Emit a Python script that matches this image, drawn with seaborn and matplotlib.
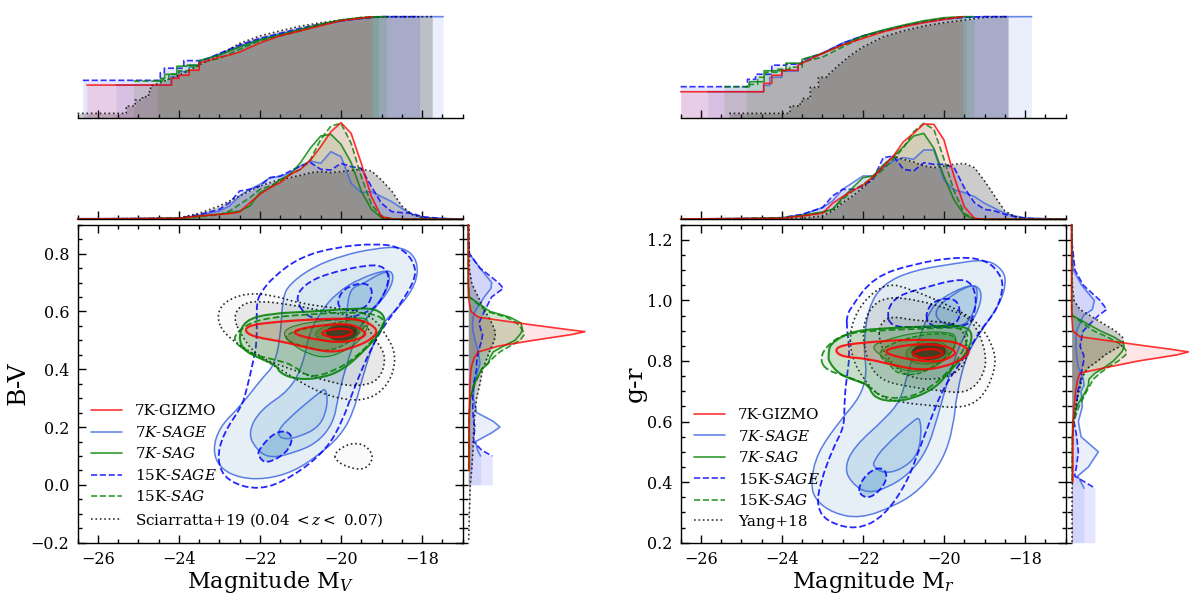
import numpy as np
import matplotlib
matplotlib.use("Agg")
import matplotlib.pyplot as plt
import seaborn as sns
from matplotlib.lines import Line2D
from matplotlib.patches import PathPatch
from matplotlib.path import Path
from matplotlib.ticker import MultipleLocator

# top KDE panels, relative density, all series on one magnitude grid
KDE_MAG = [-26.5, -25, -24, -23.5, -23, -22.75, -22.5, -22.25, -22, -21.75, -21.5, -21.25, -21, -20.75,
           -20.5, -20.25, -20, -19.75, -19.5, -19.25, -19, -18.75, -18.5, -18.25, -18, -17.5, -17]

V_KDE_GIZMO = [1, 2, 3, 10, 15, 17, 22, 50, 75, 95, 110, 135, 150, 178, 218, 263, 290, 258, 168, 68, 8, 1, 0, 0, 0, 0, 0]
V_KDE_SAGE7 = [2, 2, 3, 12, 25, 40, 70, 90, 105, 125, 128, 140, 160, 175, 168, 203, 188, 108, 80, 83, 68, 53, 33, 15, 5, 3, 0]
V_KDE_SAG7 = [1, 2, 3, 10, 15, 20, 25, 40, 80, 95, 120, 135, 170, 215, 250, 255, 225, 170, 85, 30, 5, 1, 0, 0, 0, 0, 0]
V_KDE_SAGE15 = [1, 2, 4, 14, 30, 50, 85, 90, 100, 125, 130, 145, 160, 170, 150, 148, 168, 158, 153, 98, 48, 23, 20, 18, 8, 2, 0]
V_KDE_SAG15 = [1, 1, 2, 8, 14, 25, 45, 65, 90, 100, 115, 135, 150, 180, 240, 280, 288, 228, 128, 45, 8, 2, 0, 0, 0, 0, 0]
V_KDE_OBS = [1, 2, 4, 18, 40, 55, 70, 85, 100, 110, 120, 125, 132, 140, 143, 140, 143, 147, 150, 145, 118, 85, 40, 15, 5, 1, 0]

R_KDE_GIZMO = [1, 2, 3, 10, 18, 48, 68, 86, 103, 128, 158, 190, 233, 258, 286, 285, 238, 128, 38, 3, 0, 0, 0, 0, 0, 0, 0]
R_KDE_SAGE7 = [1, 2, 4, 14, 35, 55, 90, 110, 130, 130, 155, 175, 185, 180, 208, 208, 118, 88, 80, 68, 48, 33, 18, 10, 4, 2, 0]
R_KDE_SAG7 = [1, 2, 4, 12, 22, 30, 65, 95, 125, 130, 163, 188, 218, 250, 258, 213, 128, 58, 13, 1, 0, 0, 0, 0, 0, 0, 0]
R_KDE_SAGE15 = [1, 2, 5, 15, 35, 70, 90, 90, 100, 120, 185, 190, 150, 145, 170, 165, 165, 155, 95, 50, 30, 25, 15, 8, 3, 1, 0]
R_KDE_SAG15 = [1, 2, 3, 10, 20, 30, 60, 85, 105, 125, 150, 180, 215, 263, 288, 270, 180, 85, 18, 2, 0, 0, 0, 0, 0, 0, 0]
R_KDE_OBS = [0, 0, 1, 3, 10, 25, 50, 70, 95, 125, 160, 190, 180, 172, 160, 155, 160, 165, 168, 155, 115, 70, 25, 8, 2, 0, 0]

# cumulative curves: (magnitude, fraction)
V_CDF_GIZMO = [(-26.27, .323), (-24.18, .39), (-24, .42), (-23.75, .47), (-23.5, .54), (-23.25, .57), (-23, .60), (-22.75, .62),
               (-22.5, .65), (-22, .74), (-21.5, .81), (-21, .86), (-20.5, .91), (-20, .96), (-19.5, .985), (-19.23, 1.0)]
V_CDF_SAGE7 = [(-25.55, .323), (-24.2, .406), (-24, .455), (-23.75, .52), (-23.5, .555), (-23, .63), (-22.5, .71), (-22, .775),
               (-21.5, .83), (-21, .875), (-20.5, .917), (-20, .957), (-19.5, .983), (-19, 1.0), (-17.48, 1.0)]
V_CDF_SAG7 = [(-24.53, .363), (-24.45, .39), (-24.35, .43), (-24.05, .51), (-23.8, .52), (-23.5, .565), (-23, .62), (-22.5, .70),
              (-22, .77), (-21.5, .82), (-21, .875), (-20.5, .927), (-20, .967), (-19.5, .99), (-19, 1.0), (-18.88, 1.0)]
V_CDF_SAGE15 = [(-26.37, .37), (-24.46, .445), (-24.36, .49), (-23.88, .565), (-23.5, .56), (-23.25, .59), (-23, .637), (-22.5, .72),
                (-22, .785), (-21.5, .835), (-21, .885), (-20.5, .927), (-20, .96), (-19.5, .983), (-19, 1.0), (-18.06, 1.0)]
V_CDF_SAG15 = [(-25.12, .363), (-24.4, .38), (-24.25, .43), (-24, .465), (-23.75, .505), (-23.5, .54), (-23, .587), (-22.5, .677),
               (-22, .762), (-21.5, .81), (-21, .86), (-20.5, .917), (-20, .967), (-19.5, .993), (-19.08, 1.0)]
V_CDF_OBS = [(-26.5, .043), (-25.3, .115), (-25.08, .175), (-24.9, .208), (-24.75, .257), (-24.7, .313), (-24.5, .34), (-24, .42),
             (-23.5, .52), (-23, .62), (-22.5, .736), (-22, .81), (-21.5, .86), (-21, .907), (-20.5, .94), (-20, .967),
             (-19.5, .99), (-19, .997), (-17.75, 1.0)]

R_CDF_GIZMO = [(-26.5, .257), (-24.45, .34), (-24.25, .42), (-24, .47), (-23.6, .52), (-23.2, .60), (-22.8, .67), (-22.5, .72),
               (-22, .785), (-21.5, .85), (-21, .90), (-20.5, .94), (-20, .973), (-19.54, 1.0)]
R_CDF_SAGE7 = [(-25.83, .257), (-24.45, .32), (-24.3, .40), (-24, .46), (-23.6, .53), (-23.2, .60), (-22.8, .68), (-22.5, .74),
               (-22, .81), (-21.5, .865), (-21, .91), (-20.5, .945), (-20, .975), (-19.5, .995), (-19, 1.0), (-17.84, 1.0)]
R_CDF_SAG7 = [(-24.88, .307), (-24.8, .356), (-24.44, .465), (-24.1, .465), (-23.9, .54), (-23.5, .578), (-23, .637), (-22.5, .72),
              (-22, .81), (-21.5, .868), (-21, .917), (-20.5, .96), (-20, .99), (-19.5, 1.0), (-19.26, 1.0)]
R_CDF_SAGE15 = [(-26.5, .307), (-24.85, .38), (-24.65, .43), (-24.25, .52), (-23.9, .53), (-23.5, .57), (-23, .637), (-22.5, .736),
                (-22, .81), (-21.5, .86), (-21, .907), (-20.5, .95), (-20, .977), (-19.5, .993), (-19, 1.0), (-18.42, 1.0)]
R_CDF_SAG15 = [(-25.43, .307), (-24.85, .33), (-24.6, .40), (-24.4, .45), (-24.1, .48), (-23.8, .50), (-23.5, .55), (-23, .60),
               (-22.5, .70), (-22, .80), (-21.5, .855), (-21, .905), (-20.5, .95), (-20, .985), (-19.46, 1.0)]
R_CDF_OBS = [(-25.3, .043), (-23.85, .043), (-23.8, .115), (-23.6, .135), (-23.5, .19), (-23.3, .30), (-23.1, .40), (-22.9, .41),
             (-22.6, .52), (-22.3, .62), (-22, .70), (-21.5, .80), (-21, .86), (-20.5, .907), (-20, .94), (-19.5, .967),
             (-19, .993), (-18.42, 1.0)]

# side KDE panels, relative density against colour; short lists stop where the curve stops
V_SIDE = [.9, .85, .8, .75, .7, .68, .65, .6, .58, .56, .54, .53, .52, .5, .48, .46, .44, .42, .4, .35, .3, .25,
          .22, .2, .18, .15, .12, .1, .05, 0, -.1, -.2]
V_SIDE_GIZMO = [0, 0, 0, 0, 0, 0, 0, 8, 30, 150, 280, 350, 310, 195, 90, 30, 18, 12, 8, 5, 4, 3, 3, 3, 3, 3, 3, 3, 3]
V_SIDE_SAGE7 = [0, 1, 3, 35, 70, 68, 48, 20, 15, 13, 13, 14, 17, 20, 25, 30, 33, 35, 30, 18, 15, 25, 75, 95, 70, 22, 28, 37]
V_SIDE_SAG7 = [0, 0, 0, 0, 0, 1, 3, 65, 125, 158, 162, 160, 155, 140, 105, 75, 65, 60, 40, 18, 6, 3, 3, 2, 2, 2, 2, 2, 2]
V_SIDE_SAGE15 = [0, 1, 3, 35, 90, 105, 70, 48, 40, 32, 37, 40, 43, 40, 35, 30, 27, 25, 25, 16, 13, 14, 16, 20, 18, 16, 40, 72]
V_SIDE_SAG15 = [0, 0, 0, 0, 0, 1, 3, 55, 115, 145, 160, 165, 168, 155, 125, 95, 75, 58, 40, 20, 6, 3, 2, 2, 2, 2, 2, 2, 1]
V_SIDE_OBS = [2, 2, 3, 3, 10, 17, 30, 50, 62, 70, 78, 80, 81, 78, 71, 63, 57, 50, 43, 35, 25, 20, 18, 17, 16, 15, 14, 13, 10, 6, 3, 1]

R_SIDE = [1.25, 1.2, 1.1, 1.05, 1.0, .97, .95, .9, .88, .86, .85, .84, .83, .82, .8, .78, .76, .74, .72, .7, .65, .6,
          .55, .5, .45, .42, .4, .38, .3, .2]
R_SIDE_GIZMO = [0, 0, 0, 0, 0, 0, 0, 3, 25, 155, 220, 290, 350, 315, 200, 110, 25, 18, 15, 12, 7, 5, 3, 3, 3, 3, 3]
R_SIDE_SAGE7 = [0, 0, 5, 30, 68, 62, 35, 15, 13, 13, 13, 13, 14, 15, 17, 20, 28, 35, 37, 28, 32, 20, 28, 80, 50, 18, 28, 37]
R_SIDE_SAG7 = [0, 0, 0, 0, 0, 0, 2, 85, 125, 155, 157, 155, 150, 142, 125, 100, 70, 52, 50, 42, 15, 3, 2, 2, 2, 2, 2]
R_SIDE_SAGE15 = [0, 0, 10, 35, 85, 105, 80, 35, 30, 28, 25, 28, 32, 36, 36, 32, 29, 27, 24, 18, 15, 7, 15, 20, 14, 9, 40, 70]
R_SIDE_SAG15 = [0, 0, 0, 0, 0, 0, 2, 65, 105, 140, 150, 160, 165, 162, 140, 110, 85, 65, 55, 45, 22, 6, 3, 2, 2, 2, 1]
R_SIDE_OBS = [0, 1, 1, 2, 7, 25, 55, 130, 152, 155, 150, 130, 115, 100, 78, 52, 38, 30, 27, 22, 12, 5, 3, 2, 2, 2, 2, 1, 1, 1]

# contours, left panel (M_V, B-V)
V_SAGE7_1 = [(-18.47, .825), (-18.10, .777), (-18.14, .696), (-18.55, .616), (-18.92, .570), (-19.21, .489), (-19.49, .363),
             (-19.70, .248), (-20.03, .167), (-20.60, .098), (-21.18, .046), (-21.84, .020), (-22.49, .023), (-22.99, .058),
             (-23.17, .121), (-22.99, .202), (-22.49, .271), (-21.92, .374), (-21.67, .409), (-21.5, .50), (-21.44, .650),
             (-21.26, .696), (-20.69, .754), (-19.95, .794), (-19.21, .817)]
V_SAGE7_2 = [(-22.30, .179), (-22, .259), (-21.26, .328), (-20.93, .42), (-20.8, .52), (-20.5, .60), (-20.1, .665), (-19.54, .714),
             (-18.84, .746), (-18.69, .725), (-18.80, .673), (-19.21, .604), (-19.54, .547), (-19.86, .42), (-20.07, .305),
             (-20.19, .213), (-20.60, .144), (-21.18, .11), (-21.75, .092), (-22.08, .121)]
V_SAGE7_3A = [(-21.59, .179), (-21.34, .225), (-20.52, .322), (-20.36, .334), (-20.33, .271), (-20.52, .202), (-21.01, .167), (-21.42, .156)]
V_SAGE7_3B = [(-19.86, .60), (-19.78, .679), (-19.45, .696), (-19.0, .735), (-18.78, .735), (-18.85, .675), (-19.25, .60), (-19.6, .53), (-19.9, .53)]
V_SAGE15_1 = [(-22, .662), (-21.67, .72), (-21.01, .788), (-20.11, .823), (-19.13, .835), (-18.55, .823), (-18.22, .777), (-18.14, .72),
              (-18.47, .639), (-18.84, .57), (-19.21, .489), (-19.70, .328), (-19.95, .225), (-20.36, .121), (-21.18, .029),
              (-22, -.02), (-22.82, .012), (-23.07, .087), (-22.90, .179), (-22.45, .271), (-22.33, .328), (-22.16, .432),
              (-22.08, .489), (-22.08, .57), (-22.08, .627)]
V_SAGE15_2A = [(-21.14, .639), (-20.93, .691), (-20.36, .731), (-19.29, .763), (-18.92, .754), (-18.80, .714), (-18.96, .65),
               (-19.21, .604), (-19.95, .57), (-20.77, .57)]
V_SAGE15_2B = [(-22.04, .121), (-21.67, .179), (-21.34, .188), (-21.18, .161), (-21.34, .11), (-21.84, .072), (-22.04, .098)]
V_SAGE15_3 = [(-20.11, .627), (-19.95, .679), (-19.45, .702), (-19.21, .679), (-19.29, .627), (-19.54, .604), (-19.95, .604)]
V_OBS_1 = [(-23.07, .581), (-22.90, .633), (-22.33, .664), (-21.67, .656), (-21.01, .627), (-20.03, .61), (-19.29, .593), (-18.84, .512),
           (-18.63, .443), (-18.80, .351), (-19.29, .294), (-19.95, .294), (-20.69, .328), (-21.59, .409), (-22.33, .466), (-22.90, .524)]
V_OBS_2 = [(-22.66, .581), (-22.45, .627), (-22, .637), (-21.18, .622), (-20.36, .599), (-19.54, .581), (-19.13, .501), (-18.88, .443),
           (-19.04, .363), (-19.54, .34), (-20.19, .351), (-21.18, .397), (-22.08, .443), (-22.49, .524)]
V_OBS_3 = [(-20.18, .11), (-19.78, .146), (-19.37, .138), (-19.18, .092), (-19.41, .052), (-19.78, .058), (-20.11, .081)]
V_SAG7_1 = [(-22.37, .57), (-21.75, .593), (-20.77, .599), (-19.70, .61), (-19.13, .61), (-18.88, .576), (-19.04, .524), (-19.37, .472),
            (-19.95, .397), (-20.52, .368), (-21.10, .365), (-21.51, .386), (-21.59, .414), (-22, .437), (-22.41, .466), (-22.53, .512)]
V_SAG7_2 = [(-21.47, .524), (-21.18, .553), (-20.36, .57), (-19.45, .581), (-19.29, .564), (-19.45, .512), (-19.78, .472), (-20.36, .437),
            (-20.85, .455), (-21.18, .484)]
V_SAG7_3 = [(-20.69, .524), (-20.36, .553), (-19.78, .558), (-19.50, .53), (-19.78, .501), (-20.19, .492), (-20.52, .501)]
V_SAG15_1 = [(-22.74, .501), (-22.33, .558), (-21.67, .581), (-20.77, .59), (-19.70, .599), (-19.04, .587), (-18.92, .558), (-19.21, .501),
             (-19.62, .443), (-20.11, .397), (-20.77, .368), (-21.18, .414), (-21.59, .432), (-22.16, .449)]
V_SAG15_2 = [(-21.42, .512), (-21.10, .535), (-20.36, .553), (-19.62, .576), (-19.37, .558), (-19.54, .524), (-19.95, .478), (-20.44, .461),
             (-20.85, .478), (-21.18, .489)]
V_SAG15_3 = [(-20.45, .53), (-20.15, .556), (-19.7, .556), (-19.55, .524), (-19.8, .5), (-20.2, .497)]
V_GIZMO_1 = [(-22.39, .533), (-22.25, .553), (-21.59, .564), (-20.77, .572), (-19.95, .576), (-19.45, .57), (-19.08, .538), (-19.21, .507),
             (-19.62, .478), (-20.19, .457), (-20.77, .472), (-21.42, .495), (-22.16, .512)]
V_GIZMO_2 = [(-21.20, .527), (-21.01, .541), (-20.44, .553), (-19.78, .558), (-19.45, .535), (-19.37, .518), (-19.62, .501), (-20.03, .492),
             (-20.52, .501), (-20.93, .512)]
V_GIZMO_3 = [(-20.50, .527), (-20.28, .538), (-19.86, .541), (-19.70, .53), (-19.78, .518), (-20.11, .509), (-20.40, .515)]

# contours, right panel (M_r, g-r)
R_SAGE7_1 = [(-18.94, 1.137), (-18.53, 1.099), (-18.47, 1.055), (-18.62, .989), (-19.02, .912), (-19.44, .824), (-19.69, .692), (-19.77, .582),
             (-20.02, .473), (-20.59, .374), (-21.25, .319), (-22.07, .28), (-22.73, .297), (-23.18, .341), (-23.29, .396), (-23.14, .495),
             (-22.56, .604), (-22.07, .681), (-21.9, .758), (-21.99, .846), (-21.87, .978), (-21.5, 1.055), (-20.76, 1.099), (-19.77, 1.121)]
R_SAGE7_2 = [(-22.46, .445), (-22.23, .516), (-21.41, .615), (-21.08, .67), (-20.92, .747), (-20.75, .824), (-20.51, .912), (-20.34, .967),
             (-20.10, 1.005), (-19.36, 1.055), (-19.07, 1.038), (-19.11, .978), (-19.44, .901), (-19.77, .802), (-20.18, .604), (-20.42, .505),
             (-20.84, .429), (-21.41, .38), (-21.90, .363), (-22.27, .396)]
R_SAGE7_3A = [(-21.74, .467), (-21.49, .516), (-20.75, .604), (-20.59, .615), (-20.56, .549), (-20.67, .484), (-21.08, .44), (-21.49, .429), (-21.74, .451)]
R_SAGE7_3B = [(-20.26, .967), (-19.77, 1.022), (-19.27, 1.055), (-19.15, 1.028), (-19.27, .956), (-19.52, .912), (-20.09, .923)]
R_SAGE15_1 = [(-22.40, .945), (-22.32, .973), (-21.74, 1.077), (-20.75, 1.121), (-19.60, 1.145), (-18.94, 1.132), (-18.62, 1.088), (-18.53, 1.044),
              (-18.70, .967), (-19.11, .901), (-19.44, .824), (-20.01, .714), (-20.34, .604), (-20.59, .516), (-20.92, .396), (-21.49, .286),
              (-22.15, .242), (-22.89, .269), (-23.14, .319), (-23.06, .396), (-22.73, .516), (-22.46, .582), (-22.46, .67), (-22.40, .747),
              (-22.32, .824), (-22.40, .912)]
R_SAGE15_2A = [(-21.41, .967), (-21.16, 1.016), (-20.42, 1.044), (-19.77, 1.068), (-19.36, 1.066), (-19.19, 1.011), (-19.27, .945), (-19.44, .912),
               (-20.59, .912), (-21.33, .912)]
R_SAGE15_2B = [(-22.11, .385), (-21.90, .429), (-21.58, .451), (-21.39, .429), (-21.49, .385), (-21.82, .346), (-22.07, .357)]
R_SAGE15_3 = [(-20.46, .956), (-20.26, 1.0), (-19.77, 1.009), (-19.60, .978), (-19.64, .923), (-20.18, .912), (-20.38, .923)]
R_OBS_1 = [(-22.32, .912), (-21.99, 1.0), (-21.41, 1.058), (-20.84, 1.038), (-19.77, .978), (-19.11, .923), (-18.74, .835), (-18.74, .769),
           (-19.03, .681), (-19.52, .643), (-20.42, .654), (-21.0, .662), (-21.58, .681), (-22.0, .74), (-22.3, .82)]
R_OBS_2 = [(-22.03, .901), (-21.82, .978), (-21.41, 1.013), (-20.59, 1.0), (-19.77, .967), (-19.27, .934), (-18.94, .824), (-19.03, .747),
           (-19.44, .692), (-20.18, .703), (-20.84, .714), (-21.58, .736), (-21.9, .802)]
R_OBS_3 = [(-21.60, .92), (-21.31, .949), (-20.75, .934), (-20.1, .93), (-19.6, .92), (-19.4, .85), (-19.5, .78), (-20.0, .74), (-20.8, .74),
           (-21.3, .79), (-21.6, .86)]
R_SAG7_1 = [(-22.85, .824), (-22.81, .857), (-22.32, .896), (-21.66, .907), (-20.42, .914), (-19.52, .918), (-19.27, .89), (-19.44, .824),
            (-19.85, .769), (-20.18, .714), (-20.75, .676), (-21.33, .665), (-21.74, .681), (-21.86, .72), (-22.07, .731), (-22.56, .753), (-22.85, .797)]
R_SAG7_2 = [(-21.82, .846), (-21.49, .868), (-20.67, .896), (-19.85, .896), (-19.68, .879), (-19.77, .835), (-20.01, .797), (-20.51, .764),
            (-21.08, .769), (-21.45, .808)]
R_SAG7_3 = [(-21.0, .83), (-20.59, .868), (-20.1, .868), (-19.85, .841), (-20.01, .802), (-20.42, .786), (-20.84, .797)]
R_SAG15_1 = [(-23.06, .802), (-22.93, .846), (-22.48, .89), (-21.66, .901), (-20.42, .907), (-19.60, .912), (-19.36, .885), (-19.60, .813),
             (-20.01, .747), (-20.51, .698), (-21.0, .676), (-21.58, .681), (-21.86, .72), (-22.48, .753), (-22.89, .769)]
R_SAG15_2 = [(-21.66, .824), (-21.33, .857), (-20.51, .89), (-19.77, .89), (-19.68, .857), (-19.85, .824), (-20.26, .78), (-20.67, .753),
             (-21.16, .758), (-21.33, .786)]
R_SAG15_3 = [(-20.88, .827), (-20.6, .858), (-20.1, .862), (-19.88, .83), (-20.15, .803), (-20.6, .803)]
R_GIZMO_1 = [(-22.70, .832), (-22.56, .852), (-21.82, .863), (-20.84, .871), (-19.85, .868), (-19.44, .846), (-19.37, .824), (-19.60, .802),
             (-20.01, .78), (-20.59, .769), (-21.25, .786), (-21.9, .808), (-22.48, .813)]
R_GIZMO_2 = [(-21.49, .83), (-21.25, .846), (-20.59, .857), (-20.01, .852), (-19.73, .835), (-19.73, .819), (-20.1, .797), (-20.59, .8), (-21.16, .813)]
R_GIZMO_3 = [(-20.79, .826), (-20.59, .837), (-20.18, .841), (-20.0, .827), (-20.14, .813), (-20.51, .808), (-20.71, .815)]

V_LABELS = ["7K-GIZMO", "7$K$-$SAGE$", "7$K$-$SAG$", "15K-$SAGE$", "15K-$SAG$", "Sciarratta+19 (0.04 $<z<$ 0.07)"]
R_LABELS = ["7K-GIZMO", "7$K$-$SAGE$", "7$K$-$SAG$", "15K-$SAGE$", "15K-$SAG$", "Yang+18"]

STYLES = {
    "gizmo": dict(color="red", linestyle="-"),
    "sage7": dict(color="royalblue", linestyle="-"),
    "sag7": dict(color="green", linestyle="-"),
    "sage15": dict(color="blue", linestyle="--"),
    "sag15": dict(color="green", linestyle="--"),
    "obs": dict(color="black", linestyle=":"),
}
CONTOUR_FILL = {"gizmo": "red", "sage7": "#3182bd", "sag7": "#2e8b2e", "sage15": "#3182bd", "sag15": "#2e8b2e", "obs": "black"}
ORDER = ["gizmo", "sage7", "sag7", "sage15", "sag15", "obs"]
DRAW_ORDER = ["sage7", "sage15", "obs", "sag7", "sag15", "gizmo"]

W, H = 1200, 597
PX = 72 / 100


def add_axes(fig, x0, y0, x1, y1):
    return fig.add_axes([x0 / W, 1 - y1 / H, (x1 - x0) / W, (y1 - y0) / H])


def contour(ax, pts, name, alpha=.1, lw=1.2, zorder=2):
    # quadratic spline through the midpoints of the read outline
    pts = np.array(pts)
    mids = (pts + np.roll(pts, -1, axis=0)) / 2
    verts = [mids[-1]]
    codes = [Path.MOVETO]
    for p, m in zip(pts, mids):
        verts += [p, m]
        codes += [Path.CURVE3, Path.CURVE3]
    path = Path(verts, codes)
    st = STYLES[name]
    ax.add_patch(PathPatch(path, facecolor=CONTOUR_FILL[name], edgecolor="none", alpha=alpha, zorder=zorder))
    if lw > 0:
        ax.add_patch(PathPatch(path, facecolor="none", edgecolor=st["color"], linestyle=st["linestyle"],
                               lw=lw, alpha=.85, zorder=zorder))


def line(ax, x, y, name, **kw):
    st = STYLES[name]
    sns.lineplot(x=x, y=y, ax=ax, color=st["color"], linestyle=st["linestyle"], lw=1.2, alpha=.8,
                 estimator=None, sort=False, errorbar=None, clip_on=False, legend=False, **kw)


def staircase(pts, until):
    # the bright end of the cumulative curves is a few single galaxies
    xs, ys = [pts[0][0]], [pts[0][1]]
    for x, y in pts[1:]:
        if x <= until:
            xs.append(x)
            ys.append(ys[-1])
        xs.append(x)
        ys.append(y)
    return np.array(xs), np.array(ys)


def x_ticks(ax):
    ax.xaxis.set_major_locator(MultipleLocator(2))
    ax.xaxis.set_minor_locator(MultipleLocator(.5))
    ax.tick_params(axis="x", which="major", direction="in", length=8 * PX, width=1)
    ax.tick_params(axis="x", which="minor", direction="in", length=4 * PX, width=1)


def panel(fig, x0, xside, ylim, contours, cdf, kde, side, side_c, floor, labels, xlabel, ylabel, ylabel_x, obs_until):
    x1 = x0 + 385
    ax = add_axes(fig, x0, 224.7, x1, 542.7)
    ax_kde = add_axes(fig, x0, 120, x1, 219.3)
    ax_cdf = add_axes(fig, x0, 10, x1, 117.7)
    ax_side = add_axes(fig, xside, 224.7, xside + 122, 542.7)

    for level, name, alpha, lw in contours:
        contour(ax, level, name, alpha, lw)
    ax.set_xlim(-26.5, -17)
    ax.set_ylim(*ylim)
    x_ticks(ax)
    ax.yaxis.set_major_locator(MultipleLocator(.2))
    ax.yaxis.set_minor_locator(MultipleLocator(.05))
    ax.tick_params(axis="y", which="major", direction="in", length=8 * PX, width=1, left=True, right=True)
    ax.tick_params(axis="y", which="minor", direction="in", length=4 * PX, width=1, left=True, right=True)
    ax.tick_params(axis="x", which="both", top=True, bottom=True)
    ax.tick_params(which="major", labelsize=11.5, pad=6)
    ax.set_xlabel(xlabel, fontsize=16, labelpad=1)
    ax.set_ylabel(ylabel, fontsize=18)
    ax.yaxis.set_label_coords(ylabel_x, .5)

    handles = [Line2D([], [], lw=1.2, alpha=.8, **STYLES[n]) for n in ORDER]
    ax.legend(handles, labels, loc="lower left", bbox_to_anchor=(.022, .03), frameon=False, fontsize=10.9,
              handlelength=2.1, handletextpad=.82, labelspacing=.43, borderaxespad=0, borderpad=.3)

    for name in DRAW_ORDER:
        st = STYLES[name]
        a = .2 if name == "obs" else .1

        xc, yc = staircase(cdf[name], obs_until if name == "obs" else -23.4)
        ax_cdf.fill_between(xc, 0, yc, color=st["color"], alpha=a, lw=0)
        line(ax_cdf, xc, yc, name)

        ax_kde.fill_between(KDE_MAG, 0, kde[name], color=st["color"], alpha=a, lw=0)
        line(ax_kde, np.array(KDE_MAG), np.array(kde[name]), name)

        v = np.array(side[name], dtype=float)
        c = np.array(side_c[:len(v)])
        # curves cut at their lowest galaxy keep a flat block under them
        ax_side.fill_betweenx(np.r_[c, floor], 0, np.r_[v, v[-1]], color=st["color"], alpha=a, lw=0)
        line(ax_side, v, c, name, orient="y")

    for a in (ax_kde, ax_cdf):
        a.set_xlim(-26.5, -17)
        x_ticks(a)
        sns.despine(ax=a, left=True)
        a.set_yticks([])
        a.set_xlabel("")
        a.set_ylabel("")
        a.tick_params(axis="x", which="both", labelbottom=False)
    ax_kde.set_ylim(0, 298)
    ax_cdf.set_ylim(0, 1.066)

    ax_side.set_ylim(*ylim)
    ax_side.set_xlim(0, 366)
    ax_side.yaxis.set_major_locator(MultipleLocator(.2))
    ax_side.yaxis.set_minor_locator(MultipleLocator(.05))
    ax_side.tick_params(axis="y", which="major", direction="out", length=7 * PX, width=1, labelleft=False)
    ax_side.tick_params(axis="y", which="minor", direction="out", length=5 * PX, width=1)
    ax_side.set_xticks([])
    ax_side.set_xlabel("")
    ax_side.set_ylabel("")
    sns.despine(ax=ax_side, left=True, bottom=True)
    ax_side.patch.set_alpha(0)


sns.set_style("ticks", {"text.color": "black", "axes.labelcolor": "black", "xtick.color": "black",
                        "ytick.color": "black", "axes.edgecolor": "black"})
plt.rcParams["font.family"] = ["DejaVu Serif"]
plt.rcParams["mathtext.fontset"] = "dejavuserif"
plt.rcParams["axes.linewidth"] = 1

fig = plt.figure(figsize=(12, 5.97), dpi=100)

v_contours = [
    (V_SAGE7_1, "sage7", .1, 1.1), (V_SAGE7_2, "sage7", .15, 1.1), (V_SAGE7_3A, "sage7", .1, 1.1), (V_SAGE7_3B, "sage7", .1, 1.1),
    (V_SAGE15_1, "sage15", .02, 1.3), (V_SAGE15_2A, "sage15", .07, 1.3), (V_SAGE15_2B, "sage15", .3, 1.3), (V_SAGE15_3, "sage15", .1, 1.3),
    (V_OBS_1, "obs", .02, 1.2), (V_OBS_2, "obs", .07, 1.2), (V_OBS_3, "obs", .02, 1.2),
    (V_SAG7_1, "sag7", .17, 1.5), (V_SAG7_2, "sag7", .22, .8), (V_SAG7_3, "sag7", .4, .6),
    (V_SAG15_1, "sag15", .1, 1.3), (V_SAG15_2, "sag15", .3, 1.0), (V_SAG15_3, "obs", .5, 0),
    (V_GIZMO_1, "gizmo", .1, 1.6), (V_GIZMO_2, "gizmo", .03, 1.6), (V_GIZMO_3, "gizmo", .03, 1.6),
]
r_contours = [
    (R_SAGE7_1, "sage7", .1, 1.1), (R_SAGE7_2, "sage7", .15, 1.1), (R_SAGE7_3A, "sage7", .1, 1.1), (R_SAGE7_3B, "sage7", .1, 1.1),
    (R_SAGE15_1, "sage15", .02, 1.3), (R_SAGE15_2A, "sage15", .07, 1.3), (R_SAGE15_2B, "sage15", .3, 1.3), (R_SAGE15_3, "sage15", .1, 1.3),
    (R_OBS_1, "obs", .02, 1.2), (R_OBS_2, "obs", .07, 1.2), (R_OBS_3, "obs", .08, 1.2),
    (R_SAG7_1, "sag7", .17, 1.5), (R_SAG7_2, "sag7", .22, .8), (R_SAG7_3, "sag7", .4, .6),
    (R_SAG15_1, "sag15", .1, 1.3), (R_SAG15_2, "sag15", .3, 1.0), (R_SAG15_3, "obs", .5, 0),
    (R_GIZMO_1, "gizmo", .1, 1.6), (R_GIZMO_2, "gizmo", .03, 1.6), (R_GIZMO_3, "gizmo", .03, 1.6),
]

panel(fig, 77.6, 468.3, (-.2, .9), v_contours,
      dict(gizmo=V_CDF_GIZMO, sage7=V_CDF_SAGE7, sag7=V_CDF_SAG7, sage15=V_CDF_SAGE15, sag15=V_CDF_SAG15, obs=V_CDF_OBS),
      dict(gizmo=V_KDE_GIZMO, sage7=V_KDE_SAGE7, sag7=V_KDE_SAG7, sage15=V_KDE_SAGE15, sag15=V_KDE_SAG15, obs=V_KDE_OBS),
      dict(gizmo=V_SIDE_GIZMO, sage7=V_SIDE_SAGE7, sag7=V_SIDE_SAG7, sage15=V_SIDE_SAGE15, sag15=V_SIDE_SAG15, obs=V_SIDE_OBS),
      V_SIDE, 0.0, V_LABELS, "Magnitude M$_V$", "B-V", -.126, -24.6)
panel(fig, 680.6, 1071.7, (.2, 1.25), r_contours,
      dict(gizmo=R_CDF_GIZMO, sage7=R_CDF_SAGE7, sag7=R_CDF_SAG7, sage15=R_CDF_SAGE15, sag15=R_CDF_SAG15, obs=R_CDF_OBS),
      dict(gizmo=R_KDE_GIZMO, sage7=R_KDE_SAGE7, sag7=R_KDE_SAG7, sage15=R_KDE_SAGE15, sag15=R_KDE_SAG15, obs=R_KDE_OBS),
      dict(gizmo=R_SIDE_GIZMO, sage7=R_SIDE_SAGE7, sag7=R_SIDE_SAG7, sage15=R_SIDE_SAGE15, sag15=R_SIDE_SAG15, obs=R_SIDE_OBS),
      R_SIDE, .2, R_LABELS, "Magnitude M$_r$", "g-r", -.087, -22.9)

fig.savefig("out.png", dpi=100)
